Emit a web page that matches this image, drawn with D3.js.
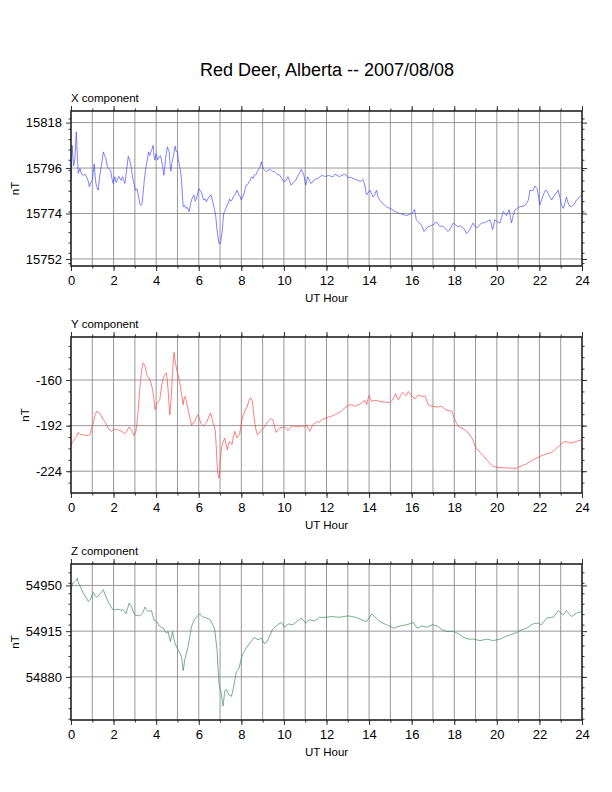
<!DOCTYPE html>
<html>
<head>
<meta charset="utf-8">
<script src="https://cdn.jsdelivr.net/npm/d3@7"></script>
<style>
  body { margin: 0; background: #fff; }
  text { font-family: "Liberation Sans", Helvetica, Arial, sans-serif; fill: #000; }
</style>
</head>
<body>
<script>
// page settings
var W = 612, H = 792;
var plotLeft = 71, plotRight = 582;

// tick labels / axis info
var hourTicks = [0, 2, 4, 6, 8, 10, 12, 14, 16, 18, 20, 22, 24];
var titleText = "Red Deer, Alberta -- 2007/08/08";

// data: [UT hour, nT]
var xSeries = [
  [0.00,15790],[0.05,15807],[0.12,15797],[0.18,15800],[0.25,15813.5],[0.30,15802],[0.34,15793.4],[0.42,15795.8],
  [0.50,15793],[0.58,15792.5],[0.66,15793],[0.73,15791.8],[0.80,15790],[0.86,15787],[0.93,15789],[1.00,15790],
  [1.09,15798],[1.15,15790],[1.20,15787],[1.28,15785.3],[1.36,15793],[1.44,15798],[1.52,15803.8],[1.58,15802],
  [1.64,15800.6],[1.70,15797],[1.75,15795.8],[1.86,15795],[1.92,15791],[1.98,15788.5],[2.06,15791.8],[2.12,15789],
  [2.17,15790],[2.24,15792],[2.30,15791],[2.36,15790],[2.42,15791.8],[2.48,15790],[2.53,15788.5],[2.60,15794],
  [2.69,15801.7],[2.75,15800],[2.80,15798],[2.86,15794],[2.92,15790],[2.97,15788],[3.03,15785.3],[3.10,15786],
  [3.16,15783],[3.23,15778.9],[3.28,15778],[3.34,15779],[3.40,15785],[3.44,15790],[3.50,15795],[3.55,15798],
  [3.60,15801],[3.64,15803.8],[3.70,15802],[3.75,15803.8],[3.80,15805],[3.86,15807],[3.90,15802],[3.94,15799.8],
  [4.00,15803],[4.07,15800],[4.14,15801.4],[4.20,15802],[4.25,15799.8],[4.30,15797],[4.36,15792.5],[4.40,15796],
  [4.44,15800.6],[4.48,15803],[4.53,15806.2],[4.57,15805],[4.61,15803.8],[4.65,15798],[4.69,15794.5],[4.73,15798],
  [4.78,15800.6],[4.83,15803],[4.89,15806.6],[4.94,15804],[5.00,15803.8],[5.04,15800],[5.08,15798],[5.14,15795],
  [5.19,15790],[5.23,15783],[5.27,15777.3],[5.33,15778],[5.39,15776.5],[5.46,15777],[5.55,15774.8],[5.60,15778],
  [5.66,15780.5],[5.72,15782],[5.77,15783],[5.83,15780],[5.89,15781],[5.95,15784],[6.02,15786],[6.08,15785],
  [6.13,15784.3],[6.18,15782],[6.23,15780.5],[6.30,15781],[6.36,15779.7],[6.42,15781],[6.48,15782],[6.58,15783],
  [6.63,15781],[6.67,15779],[6.74,15776],[6.80,15772.4],[6.84,15768],[6.88,15764.4],[6.95,15759.5],[7.02,15759.5],
  [7.05,15762],[7.09,15764.4],[7.13,15769],[7.17,15774],[7.22,15775],[7.27,15776.5],[7.33,15778],[7.38,15779],
  [7.45,15781],[7.50,15780],[7.56,15780.5],[7.62,15782],[7.69,15783],[7.75,15784],[7.80,15785.3],[7.89,15783],
  [7.95,15782],[8.00,15780.5],[8.06,15782],[8.13,15783.7],[8.18,15786],[8.23,15787.7],[8.30,15788],[8.36,15789.3],
  [8.42,15790],[8.48,15791.8],[8.55,15791],[8.62,15792.6],[8.70,15793],[8.78,15795],[8.86,15796],[8.94,15799],
  [9.02,15795.8],[9.10,15795],[9.17,15794.2],[9.27,15795],[9.36,15795.3],[9.46,15794.5],[9.56,15794.2],[9.68,15793],
  [9.80,15792.6],[9.90,15791],[10.00,15789.3],[10.10,15790],[10.19,15791.8],[10.26,15790],[10.34,15787.7],[10.45,15789],
  [10.55,15790],[10.64,15792],[10.73,15793.4],[10.81,15795.3],[10.88,15794],[10.94,15792.6],[11.02,15787.7],[11.08,15790],
  [11.12,15791.8],[11.20,15790],[11.28,15788.5],[11.40,15790],[11.52,15791],[11.60,15791],[11.69,15791.8],[11.80,15792.5],
  [11.89,15792],[12.00,15792],[12.10,15792.5],[12.20,15792],[12.30,15791.8],[12.40,15793],[12.50,15792.5],[12.60,15791.8],
  [12.72,15792.5],[12.85,15793],[12.93,15792.5],[13.00,15791.4],[13.12,15791.5],[13.24,15791],[13.36,15790.5],[13.48,15790],
  [13.60,15789.5],[13.71,15790.4],[13.76,15789],[13.80,15787.7],[13.84,15785],[13.88,15783],[13.95,15784],[14.03,15785.3],
  [14.10,15784],[14.19,15782],[14.26,15783],[14.35,15785.3],[14.42,15782],[14.50,15780.5],[14.62,15779],[14.74,15778],
  [14.85,15777],[14.97,15776.5],[15.08,15776],[15.20,15775],[15.32,15774.5],[15.44,15774],[15.60,15773.5],[15.75,15773],
  [15.88,15773.5],[15.99,15774],[16.08,15775],[16.14,15776],[16.18,15773],[16.22,15771],[16.30,15770],[16.38,15769.4],
  [16.48,15768],[16.58,15765.3],[16.68,15766.5],[16.77,15767.7],[16.88,15768],[17.00,15768.5],[17.08,15769],[17.16,15770],
  [17.24,15769],[17.32,15767.7],[17.45,15768],[17.55,15767],[17.64,15766],[17.71,15765.3],[17.83,15767],[17.95,15769.4],
  [18.06,15768.5],[18.18,15767.7],[18.30,15768],[18.42,15767],[18.50,15766],[18.57,15764.3],[18.65,15765],[18.73,15766.2],
  [18.81,15768],[18.89,15769.4],[18.96,15768],[19.04,15767],[19.16,15768],[19.28,15769.4],[19.40,15769.5],[19.51,15770],
  [19.60,15770.5],[19.67,15771],[19.74,15769],[19.80,15766.2],[19.85,15768],[19.90,15771],[20.02,15770],[20.14,15769.4],
  [20.22,15772],[20.30,15775],[20.38,15774],[20.45,15773],[20.52,15774.5],[20.58,15775.8],[20.64,15772],[20.69,15769.4],
  [20.77,15773],[20.85,15775.8],[20.96,15776.5],[21.08,15777.3],[21.20,15777.5],[21.32,15778],[21.40,15779],[21.48,15780.5],
  [21.52,15783],[21.55,15785.3],[21.63,15785],[21.71,15785.3],[21.79,15787.3],[21.85,15786.5],[21.90,15786],[21.96,15782],
  [22.02,15778],[22.08,15780],[22.15,15782],[22.22,15784],[22.29,15785.3],[22.35,15785],[22.41,15783.7],[22.49,15782],
  [22.57,15780.5],[22.65,15782],[22.73,15783],[22.80,15784],[22.88,15785.3],[22.96,15782],[23.04,15778],[23.12,15776.5],
  [23.20,15779],[23.27,15782],[23.35,15779],[23.43,15777.3],[23.51,15777.5],[23.59,15778],[23.66,15779],[23.74,15780.5],
  [23.81,15781],[23.87,15782],[23.93,15782.5],[24.00,15783]
];

var ySeries = [
  [0.00,-206.6],[0.05,-204],[0.10,-203],[0.18,-201],[0.27,-199.6],[0.34,-196.8],[0.42,-198],[0.50,-198.4],
  [0.62,-198.5],[0.73,-199],[0.82,-198.8],[0.89,-198.4],[0.96,-194],[1.05,-190.2],[1.12,-185],[1.20,-182],
  [1.27,-182.5],[1.33,-183.2],[1.42,-185],[1.52,-187.9],[1.62,-190],[1.75,-193.7],[1.82,-195],[1.90,-196],
  [1.98,-195],[2.06,-194.4],[2.18,-194.8],[2.30,-195.4],[2.42,-196.5],[2.53,-197.7],[2.62,-196],[2.72,-193],
  [2.78,-193.5],[2.84,-194.9],[2.90,-197],[2.95,-199],[3.00,-197.5],[3.05,-196],[3.10,-190],[3.16,-180.8],
  [3.22,-168],[3.27,-160],[3.32,-153],[3.39,-148],[3.44,-149],[3.48,-150.4],[3.53,-154],[3.58,-157.4],
  [3.64,-158],[3.70,-159.8],[3.76,-162],[3.83,-166.8],[3.89,-173],[3.95,-180.8],[4.00,-178],[4.05,-176.2],
  [4.11,-175],[4.17,-173.8],[4.22,-168],[4.28,-162],[4.35,-158],[4.41,-156.3],[4.48,-155],[4.52,-160],
  [4.56,-166.8],[4.60,-176],[4.64,-184.4],[4.68,-177],[4.72,-169],[4.75,-160],[4.78,-152.7],[4.81,-146],
  [4.84,-140.6],[4.88,-145],[4.92,-149.2],[4.97,-153],[5.03,-156.3],[5.08,-160],[5.14,-164.4],[5.20,-171],
  [5.27,-177.3],[5.31,-173],[5.36,-171.5],[5.43,-176],[5.50,-180.8],[5.58,-186],[5.66,-191.8],[5.74,-190],
  [5.81,-189.5],[5.89,-186],[5.97,-184.4],[6.03,-187],[6.09,-190.2],[6.16,-191.5],[6.23,-192.5],[6.31,-191],
  [6.39,-189],[6.47,-186],[6.55,-183.2],[6.61,-186],[6.67,-190.2],[6.72,-192],[6.77,-195],[6.80,-201],
  [6.83,-209],[6.86,-218],[6.89,-225.3],[6.95,-228.9],[6.99,-223],[7.02,-216],[7.05,-210],[7.08,-206.6],
  [7.15,-203],[7.22,-200.7],[7.28,-205],[7.34,-209],[7.40,-205],[7.45,-203.1],[7.50,-204],[7.56,-205.4],
  [7.62,-200],[7.69,-196],[7.75,-199],[7.80,-200.7],[7.86,-199],[7.92,-198.4],[7.97,-193],[8.03,-187.9],
  [8.10,-184],[8.16,-182],[8.22,-180],[8.28,-178.5],[8.35,-175],[8.42,-172.6],[8.47,-173],[8.52,-175],
  [8.57,-182],[8.63,-190.2],[8.69,-195],[8.75,-198.4],[8.82,-197.5],[8.89,-196],[8.97,-194.5],[9.05,-193.7],
  [9.12,-192],[9.20,-190.2],[9.28,-188.5],[9.36,-187.4],[9.42,-187.5],[9.48,-187.9],[9.56,-193],[9.64,-196.8],
  [9.72,-195],[9.80,-193.7],[9.92,-193.3],[10.03,-193],[10.11,-194],[10.19,-195.4],[10.30,-193.5],[10.42,-192.1],
  [10.54,-192.5],[10.66,-193],[10.77,-192.5],[10.89,-192.1],[10.98,-193],[11.07,-191.4],[11.13,-194],[11.22,-196],
  [11.30,-193],[11.36,-191.4],[11.46,-190.2],[11.58,-189],[11.67,-189.7],[11.77,-187.9],[11.88,-187.2],[12.00,-186.7],
  [12.10,-186],[12.20,-185.5],[12.32,-185],[12.44,-184],[12.56,-183.2],[12.68,-182],[12.79,-180.4],[12.92,-179],
  [13.08,-177.3],[13.20,-177.5],[13.34,-178.5],[13.45,-177.5],[13.57,-176.9],[13.68,-175.5],[13.80,-174.3],[13.84,-176],
  [13.89,-177.3],[13.95,-173],[14.00,-171],[14.06,-173],[14.12,-175],[14.20,-174.5],[14.28,-174.3],[14.40,-174.5],
  [14.50,-175],[14.66,-175.3],[14.83,-175.7],[14.98,-175.7],[15.06,-174.5],[15.14,-173.3],[15.20,-171],[15.25,-169.6],
  [15.31,-172],[15.38,-173.8],[15.48,-171],[15.58,-168.7],[15.66,-170],[15.74,-171],[15.84,-168],[15.92,-169.5],
  [16.00,-171],[16.08,-172],[16.16,-173.3],[16.24,-171.5],[16.31,-170.3],[16.39,-171],[16.47,-171.5],[16.55,-171.5],
  [16.62,-171],[16.70,-174],[16.78,-177.3],[16.88,-178],[16.99,-178.5],[17.10,-178.7],[17.20,-179],[17.30,-178.7],
  [17.41,-178.5],[17.53,-180],[17.65,-181.3],[17.77,-181.5],[17.88,-182],[17.94,-184],[17.99,-186.7],[18.10,-190],
  [18.20,-192.6],[18.32,-193.5],[18.43,-194.4],[18.55,-195.5],[18.67,-197.2],[18.75,-199],[18.83,-200.7],[18.90,-203],
  [18.98,-206.6],[19.10,-208.8],[19.22,-210.8],[19.34,-212.8],[19.45,-214.8],[19.57,-216.8],[19.69,-218.8],[19.77,-220],
  [19.84,-220.7],[20.00,-221.1],[20.15,-221.4],[20.31,-221.6],[20.47,-221.7],[20.63,-221.8],[20.75,-222],[20.86,-222.3],
  [20.98,-221.5],[21.09,-220.7],[21.25,-219.7],[21.40,-218.8],[21.55,-217.4],[21.71,-216],[21.87,-214.8],[22.03,-213.6],
  [22.18,-212.7],[22.34,-211.8],[22.46,-211.3],[22.58,-210.8],[22.70,-209.3],[22.81,-207.8],[22.93,-206.3],[23.05,-204.7],
  [23.12,-203.9],[23.20,-203.1],[23.32,-203.6],[23.44,-204.2],[23.55,-203.8],[23.67,-203.5],[23.82,-202.7],[24.00,-201.9]
];

var zSeries = [
  [0.00,54946.7],[0.04,54949],[0.08,54951.8],[0.14,54952],[0.19,54953],[0.25,54954],[0.30,54955.6],[0.35,54952],
  [0.39,54950.5],[0.45,54948.5],[0.50,54946.7],[0.58,54944],[0.66,54942],[0.74,54940],[0.81,54937.7],[0.87,54938.5],
  [0.92,54939.5],[0.98,54942],[1.05,54944.6],[1.12,54942.5],[1.20,54941],[1.28,54942],[1.36,54943.6],[1.44,54945],
  [1.52,54946.7],[1.60,54943],[1.67,54940.3],[1.75,54937.5],[1.83,54935.2],[1.90,54933],[1.98,54931.3],[2.10,54931.5],
  [2.22,54931.9],[2.34,54931],[2.45,54931.3],[2.52,54930],[2.58,54928.3],[2.65,54932],[2.73,54936.5],[2.78,54935],
  [2.84,54933.9],[2.92,54930],[3.00,54927.5],[3.10,54927],[3.20,54926.7],[3.28,54927.5],[3.36,54928.8],[3.42,54931],
  [3.47,54933.4],[3.55,54931.5],[3.63,54930],[3.70,54930.5],[3.78,54930.8],[3.84,54927],[3.89,54923.7],[3.96,54923],
  [4.02,54922.4],[4.10,54920.5],[4.17,54918.6],[4.25,54918],[4.33,54917.3],[4.40,54915.5],[4.48,54913.5],[4.56,54914.7],
  [4.62,54910],[4.67,54907],[4.72,54911],[4.77,54914.7],[4.82,54910],[4.88,54905.8],[4.96,54903],[5.03,54900.7],
  [5.11,54898],[5.19,54895.6],[5.23,54890],[5.27,54884.8],[5.30,54888],[5.34,54893],[5.42,54898],[5.50,54903.2],
  [5.58,54911],[5.66,54918.6],[5.72,54921],[5.78,54923.7],[5.89,54925.7],[5.97,54927],[6.05,54928.3],[6.12,54927],
  [6.20,54925.7],[6.28,54925.5],[6.36,54925],[6.45,54924.5],[6.55,54923.7],[6.65,54920],[6.75,54916.5],[6.80,54909],
  [6.86,54900.7],[6.90,54888],[6.95,54875.1],[7.00,54871],[7.06,54867.5],[7.10,54862],[7.14,54857.8],[7.18,54863],
  [7.22,54868.8],[7.26,54870],[7.30,54870.5],[7.36,54868],[7.42,54866.2],[7.48,54866],[7.53,54865],[7.58,54868],
  [7.64,54872.6],[7.70,54878],[7.77,54884],[7.83,54885],[7.89,54886.6],[7.97,54892],[8.05,54896.9],[8.14,54899.5],
  [8.23,54902],[8.32,54904],[8.42,54906.3],[8.52,54908.5],[8.63,54910.4],[8.70,54909],[8.78,54908.4],[8.86,54909],
  [8.94,54909.6],[9.02,54907.5],[9.09,54905.3],[9.17,54906.5],[9.25,54908.4],[9.35,54912],[9.45,54916],[9.55,54917.5],
  [9.64,54919],[9.76,54920.5],[9.88,54921.6],[9.95,54920],[10.03,54918],[10.13,54919.5],[10.23,54920.6],[10.33,54920],
  [10.42,54919.9],[10.54,54921.5],[10.66,54923.2],[10.74,54924],[10.81,54925],[10.92,54923],[11.02,54921.1],[11.10,54922.5],
  [11.20,54923.7],[11.32,54923.2],[11.44,54922.9],[11.55,54924],[11.67,54925.7],[11.83,54925.5],[12.00,54925.7],[12.16,54926],
  [12.32,54926.2],[12.47,54925.8],[12.63,54925.7],[12.82,54926.2],[13.02,54926.7],[13.18,54926.2],[13.34,54925.7],[13.50,54924.8],
  [13.65,54923.7],[13.77,54923],[13.89,54922.4],[14.00,54925],[14.12,54928.3],[14.20,54927],[14.28,54925.7],[14.40,54924],
  [14.50,54922.4],[14.66,54921],[14.83,54919.9],[14.98,54918.6],[15.14,54917.3],[15.30,54918.2],[15.46,54919],[15.62,54919.5],
  [15.78,54919.9],[15.94,54920.8],[16.09,54921.6],[16.17,54919.5],[16.25,54917.3],[16.36,54918],[16.48,54919],[16.60,54918.5],
  [16.71,54918],[16.85,54919],[16.99,54919.9],[17.09,54919.5],[17.19,54919],[17.31,54917.5],[17.43,54916],[17.55,54915.3],
  [17.66,54914.7],[17.82,54914.7],[17.98,54914.7],[18.09,54913.8],[18.20,54913],[18.32,54911.7],[18.43,54910.4],[18.55,54909.6],
  [18.67,54908.9],[18.79,54908.9],[18.91,54908.9],[19.06,54908.3],[19.22,54907.8],[19.38,54908.3],[19.53,54908.9],[19.69,54908.3],
  [19.84,54907.8],[20.00,54908.4],[20.16,54908.9],[20.28,54910],[20.40,54910.9],[20.52,54911.5],[20.63,54912.2],[20.75,54912.9],
  [20.86,54913.5],[20.98,54914.5],[21.09,54915.5],[21.25,54916.4],[21.40,54917.3],[21.55,54919],[21.71,54920.6],[21.83,54921],
  [21.95,54921.1],[22.02,54920.5],[22.10,54919.9],[22.22,54922.5],[22.34,54925],[22.50,54925.4],[22.65,54925.7],[22.76,54928],
  [22.88,54930.8],[23.00,54929],[23.12,54927.5],[23.20,54929],[23.27,54930.8],[23.38,54928.5],[23.50,54926.2],[23.62,54927.5],
  [23.74,54928.8],[23.86,54929.5],[24.00,54930]
];

// per-panel setup
var panels = [
  {name: "X component", data: xSeries, top: 111, bottom: 266, domain: [15748.6, 15823.6],
   major: [15752, 15774, 15796, 15818], minorStep: 5, color: "#4b4bff"},
  {name: "Y component", data: ySeries, top: 337, bottom: 493, domain: [-239.3, -129.8],
   major: [-224, -192, -160], minorStep: 8, color: "#ff4646"},
  {name: "Z component", data: zSeries, top: 564, bottom: 720, domain: [54847, 54966.4],
   major: [54880, 54915, 54950], minorStep: 8, color: "#3d8a5e"}
];

// plain integers, ASCII hyphen for negatives
var plainNum = function(d) { return String(d); };

var svg = d3.select("body").append("svg")
  .attr("width", W).attr("height", H);

svg.append("text")
  .attr("x", 327).attr("y", 76)
  .attr("text-anchor", "middle")
  .style("font-size", "18px")
  .text(titleText);

var x = d3.scaleLinear().domain([0, 24]).range([plotLeft, plotRight]);
var allHours = d3.range(0, 25);

panels.forEach(function(p) {
  var y = d3.scaleLinear().domain(p.domain).range([p.bottom, p.top]);
  var g = svg.append("g");

  // minor y ticks at multiples of minorStep
  var minors = d3.range(Math.ceil(p.domain[0] / p.minorStep) * p.minorStep, p.domain[1], p.minorStep);

  // grid
  g.selectAll(".vgrid").data(allHours.slice(1, 24)).enter().append("line")
    .attr("x1", function(d) { return x(d); }).attr("x2", function(d) { return x(d); })
    .attr("y1", p.top).attr("y2", p.bottom)
    .attr("stroke", "#8c8c8c").attr("stroke-width", 0.9);
  g.selectAll(".hgrid").data(p.major).enter().append("line")
    .attr("x1", plotLeft).attr("x2", plotRight)
    .attr("y1", function(d) { return y(d); }).attr("y2", function(d) { return y(d); })
    .attr("stroke", "#8c8c8c").attr("stroke-width", 0.9);

  // data line
  var line = d3.line()
    .x(function(d) { return x(d[0]); })
    .y(function(d) { return y(d[1]); });
  g.append("path").datum(p.data)
    .attr("d", line)
    .attr("fill", "none")
    .attr("stroke", p.color)
    .attr("stroke-width", 0.7)
    .attr("stroke-linejoin", "round");

  // left and right axes
  var leftAxis = d3.axisLeft(y).tickValues(p.major).tickSize(5).tickPadding(4).tickFormat(plainNum);
  var gl = g.append("g").attr("transform", "translate(" + plotLeft + ",0)").call(leftAxis);
  gl.select(".domain").remove();
  gl.selectAll("text").style("font-size", "13px").style("font-family", "Liberation Sans, Arial, sans-serif");
  g.append("g").attr("transform", "translate(" + plotLeft + ",0)")
    .call(d3.axisLeft(y).tickValues(minors).tickSize(2.5).tickFormat(""))
    .select(".domain").remove();

  var gr = g.append("g").attr("transform", "translate(" + plotRight + ",0)")
    .call(d3.axisRight(y).tickValues(p.major).tickSize(5).tickFormat(""));
  gr.select(".domain").remove();
  g.append("g").attr("transform", "translate(" + plotRight + ",0)")
    .call(d3.axisRight(y).tickValues(minors).tickSize(2.5).tickFormat(""))
    .select(".domain").remove();

  // bottom and top axes
  var gb = g.append("g").attr("transform", "translate(0," + p.bottom + ")")
    .call(d3.axisBottom(x).tickValues(hourTicks).tickSize(5).tickPadding(5).tickFormat(plainNum));
  gb.select(".domain").remove();
  gb.selectAll("text").style("font-size", "13px").style("font-family", "Liberation Sans, Arial, sans-serif");
  g.append("g").attr("transform", "translate(0," + p.bottom + ")")
    .call(d3.axisBottom(x).tickValues(allHours).tickSize(2.5).tickFormat(""))
    .select(".domain").remove();
  g.append("g").attr("transform", "translate(0," + p.top + ")")
    .call(d3.axisTop(x).tickValues(hourTicks).tickSize(5).tickFormat(""))
    .select(".domain").remove();
  g.append("g").attr("transform", "translate(0," + p.top + ")")
    .call(d3.axisTop(x).tickValues(allHours).tickSize(2.5).tickFormat(""))
    .select(".domain").remove();

  g.selectAll(".tick line").attr("stroke", "#333");

  // frame
  g.append("rect")
    .attr("x", plotLeft).attr("y", p.top)
    .attr("width", plotRight - plotLeft).attr("height", p.bottom - p.top)
    .attr("fill", "none").attr("stroke", "#222").attr("stroke-width", 1.6);

  // labels
  g.append("text")
    .attr("x", plotLeft).attr("y", p.top - 9)
    .style("font-size", "11.5px")
    .text(p.name);

  g.append("text")
    .attr("x", plotLeft + ((plotRight - plotLeft) / 2)).attr("y", p.bottom + 36)
    .attr("text-anchor", "middle")
    .style("font-size", "11.5px")
    .text("UT Hour");

  var labelW = d3.max(gl.selectAll("text").nodes(), function(n) { return n.getComputedTextLength(); });
  g.append("text")
    .attr("transform", "translate(" + (plotLeft - 9 - labelW - 7) + "," + ((p.top + p.bottom) / 2) + ") rotate(-90)")
    .attr("text-anchor", "middle")
    .style("font-size", "11.5px")
    .text("nT");
});
</script>
</body>
</html>
